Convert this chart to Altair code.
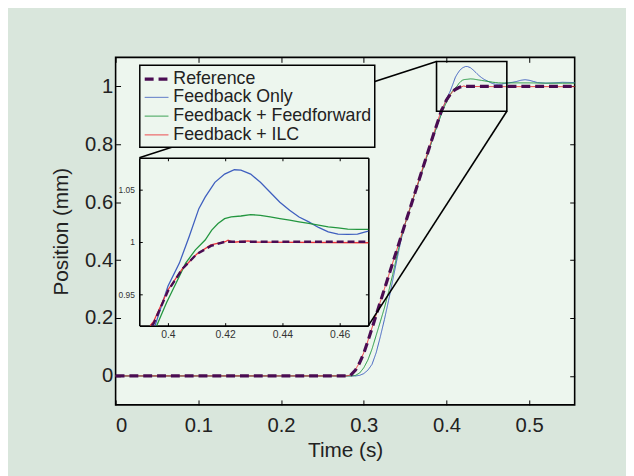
import altair as alt
import pandas as pd

# ---------------- data ----------------
SERIES = ["Reference", "Feedback Only", "Feedback + Feedforward", "Feedback + ILC"]
COLORS = ["#4a0c52", "#3f5fbf", "#23963f", "#ee3338"]

ref_t = [0.0, 0.28, 0.284, 0.29, 0.295, 0.30, 0.305, 0.31, 0.315, 0.32, 0.325, 0.33,
         0.335, 0.34, 0.345, 0.35, 0.355, 0.36, 0.365, 0.37, 0.375, 0.38, 0.385, 0.39,
         0.3944, 0.395, 0.40, 0.405, 0.41, 0.415, 0.42, 0.47, 0.555]
ref_y = [0.0, 0.0, 0.002, 0.02, 0.045, 0.078, 0.12, 0.165, 0.21, 0.255, 0.30, 0.345,
         0.39, 0.435, 0.48, 0.525, 0.57, 0.615, 0.66, 0.705, 0.75, 0.795, 0.84, 0.882,
         0.92, 0.922, 0.953, 0.974, 0.988, 0.996, 1.0, 1.0, 1.0]

fb_t = [0.0, 0.29, 0.295, 0.30, 0.305, 0.31, 0.315, 0.32, 0.325, 0.33, 0.335, 0.34,
        0.345, 0.35, 0.355, 0.36, 0.365, 0.37, 0.375, 0.38, 0.385, 0.39, 0.3955,
        0.400, 0.404, 0.4074, 0.4108, 0.413, 0.4164, 0.4198, 0.4232, 0.4255, 0.4289,
        0.4323, 0.4357, 0.4391, 0.4425, 0.4458, 0.4492, 0.4526, 0.456, 0.4594, 0.4628,
        0.4662, 0.469, 0.47, 0.475, 0.48, 0.485, 0.49, 0.495, 0.50, 0.505, 0.51, 0.52,
        0.53, 0.54, 0.555]
fb_y = [0.0, 0.0, 0.002, 0.008, 0.02, 0.04, 0.08, 0.135, 0.195, 0.26, 0.33, 0.40,
        0.468, 0.525, 0.57, 0.614, 0.658, 0.702, 0.746, 0.79, 0.833, 0.874, 0.92,
        0.9575, 0.9796, 1.0047, 1.0315, 1.0425, 1.0566, 1.0645, 1.0686, 1.0683, 1.0645,
        1.0566, 1.0472, 1.0377, 1.0299, 1.0236, 1.0189, 1.0136, 1.0094, 1.0073, 1.007,
        1.0073, 1.0094, 1.010, 1.012, 1.014, 1.017, 1.021, 1.023, 1.021, 1.017, 1.013, 1.011,
        1.012, 1.014, 1.013]

ff_t = [0.0, 0.285, 0.29, 0.295, 0.30, 0.305, 0.31, 0.315, 0.32, 0.325, 0.33, 0.335,
        0.34, 0.345, 0.35, 0.355, 0.36, 0.365, 0.37, 0.375, 0.38, 0.385, 0.39, 0.3961,
        0.3995, 0.4029, 0.4062, 0.4096, 0.413, 0.4153, 0.4175, 0.4198, 0.4221, 0.4255,
        0.4289, 0.4323, 0.4357, 0.4391, 0.4425, 0.4458, 0.4492, 0.4526, 0.456, 0.4594,
        0.4628, 0.4662, 0.47, 0.48, 0.50, 0.52, 0.54, 0.555]
ff_y = [0.0, 0.0, 0.002, 0.01, 0.028, 0.055, 0.093, 0.14, 0.187, 0.235, 0.29, 0.35,
        0.413, 0.476, 0.525, 0.57, 0.614, 0.658, 0.702, 0.746, 0.79, 0.833, 0.875, 0.92,
        0.9419, 0.9608, 0.9796, 0.9922, 1.0016, 1.011, 1.0174, 1.022, 1.0236, 1.0245,
        1.0258, 1.0252, 1.0236, 1.022, 1.0205, 1.0189, 1.0174, 1.0158, 1.0142, 1.0132,
        1.012, 1.0117, 1.0117, 1.012, 1.012, 1.011, 1.011, 1.011]

ilc_t = [0.0, 0.279, 0.284, 0.29, 0.295, 0.30, 0.305, 0.31, 0.315, 0.32, 0.325, 0.33,
         0.335, 0.34, 0.345, 0.35, 0.355, 0.36, 0.365, 0.37, 0.375, 0.38, 0.385, 0.39,
         0.3938, 0.395, 0.40, 0.405, 0.41, 0.415, 0.42, 0.421, 0.423, 0.428, 0.43, 0.47,
         0.555]
ilc_y = [0.0, 0.0, 0.003, 0.022, 0.047, 0.08, 0.121, 0.166, 0.211, 0.256, 0.301, 0.346,
         0.391, 0.436, 0.481, 0.526, 0.571, 0.616, 0.661, 0.706, 0.751, 0.796, 0.841, 0.884,
         0.92, 0.924, 0.954, 0.974, 0.988, 0.997, 1.0, 1.0015, 0.9995, 1.0008, 0.9995, 0.999,
         0.999]

# ---------------- layout ----------------
W, H = 465, 352
X_DOMAIN = [0, 0.555]
Y_DOMAIN = [-0.1, 1.1]
X_TICKS = [0, 0.1, 0.2, 0.3, 0.4, 0.5]
Y_TICKS = [0, 0.2, 0.4, 0.6, 0.8, 1.0]
INSET_X = [0.39, 0.47]
INSET_Y = [0.92, 1.08]
INSET_X_TICKS = [0.40, 0.42, 0.44, 0.46]
INSET_Y_TICKS = [0.95, 1.0, 1.05]
INSET_PX = dict(left=24, right=256, top=101.7, bottom=271.7)
BOX_X = [0.388, 0.473]
BOX_Y = [0.914, 1.086]
BG_OUT = "#d9e6dc"
BG_IN = "#edf6ee"
FONT = "Liberation Sans"


def px_to_x(px):
    return X_DOMAIN[0] + px / W * (X_DOMAIN[1] - X_DOMAIN[0])


def px_to_y(py):
    return Y_DOMAIN[1] - py / H * (Y_DOMAIN[1] - Y_DOMAIN[0])


rows = []
for name, ts, ys in [("Feedback Only", fb_t, fb_y), ("Feedback + Feedforward", ff_t, ff_y),
                     ("Feedback + ILC", ilc_t, ilc_y), ("Reference", ref_t, ref_y)]:
    for i, (t, y) in enumerate(zip(ts, ys)):
        rows.append({"series": name, "t": t, "y": y, "i": i})
df = pd.DataFrame(rows)
inset_df = df[(df.t >= INSET_X[0]) & (df.t <= INSET_X[1]) & (df.y >= INSET_Y[0]) & (df.y <= INSET_Y[1])]

box_df = pd.DataFrame([{"x": BOX_X[0], "x2": BOX_X[1], "y": BOX_Y[0], "y2": BOX_Y[1]}])
conn_df = pd.DataFrame([
    {"x": px_to_x(INSET_PX["left"]), "y": px_to_y(INSET_PX["top"]), "x2": BOX_X[0], "y2": BOX_Y[1]},
    {"x": px_to_x(INSET_PX["right"]), "y": px_to_y(INSET_PX["bottom"]), "x2": BOX_X[1], "y2": BOX_Y[0]},
])
frame_df = pd.DataFrame([{"x": INSET_X[0], "y": INSET_Y[0]}])

neg5 = alt.ExprRef(expr="-5")
neg3 = alt.ExprRef(expr="-3")

mx = alt.Scale(domain=X_DOMAIN, nice=False, zero=False)
my = alt.Scale(domain=Y_DOMAIN, nice=False, zero=False)
ix = alt.Scale(domain=INSET_X, nice=False, zero=False, range=[INSET_PX["left"], INSET_PX["right"]])
iy = alt.Scale(domain=INSET_Y, nice=False, zero=False, range=[INSET_PX["bottom"], INSET_PX["top"]])

main_axis_common = dict(domain=False, grid=False, tickSize=neg5, tickColor="black", tickWidth=1,
                        labelFontSize=20.5, labelFont=FONT, labelColor="#222222",
                        titleFontSize=21, titleFont=FONT, titleColor="#222222", titleFontWeight="normal")

x_bottom = alt.Axis(orient="bottom", values=X_TICKS, format="~g", title="Time (s)",
                    labelPadding=16, titlePadding=4, **main_axis_common)
y_left = alt.Axis(orient="left", values=Y_TICKS, format="~g", title="Position (mm)",
                  labelPadding=8, titlePadding=13, **main_axis_common)
x_top = alt.Axis(orient="top", values=X_TICKS, labels=False, title=None, **main_axis_common)
y_right = alt.Axis(orient="right", values=Y_TICKS, labels=False, title=None, **main_axis_common)

LEG = dict(title=None, orient="none", legendX=24.5, legendY=8)
color = alt.Color("series:N", scale=alt.Scale(domain=SERIES, range=COLORS), legend=alt.Legend(**LEG))
dash = alt.StrokeDash("series:N", scale=alt.Scale(domain=SERIES, range=[[9, 5], [1, 0], [1, 0], [1, 0]]),
                      legend=alt.Legend(**LEG))
width = alt.StrokeWidth("series:N", scale=alt.Scale(type="ordinal", domain=SERIES, range=[3.2, 1.0, 1.0, 1.0]),
                        legend=alt.Legend(**LEG))

main_lines = alt.Chart(df).transform_filter(alt.datum.series != "Reference").mark_line().encode(
    x=alt.X("t:Q", scale=mx, axis=x_bottom),
    y=alt.Y("y:Q", scale=my, axis=y_left),
    color=color, strokeDash=dash, strokeWidth=width, order="i:Q", detail="series:N",
)
main_ref = alt.Chart(df).transform_filter(alt.datum.series == "Reference").mark_line().encode(
    x=alt.X("t:Q", scale=mx, axis=None),
    y=alt.Y("y:Q", scale=my, axis=None),
    color=color, strokeDash=dash, strokeWidth=width, order="i:Q",
)
box = alt.Chart(box_df).mark_rect(fill=None, stroke="black", strokeWidth=1.6).encode(
    x=alt.X("x:Q", scale=mx, axis=x_top), x2="x2:Q",
    y=alt.Y("y:Q", scale=my, axis=y_right), y2="y2:Q",
)
connectors = alt.Chart(conn_df).mark_rule(color="black", strokeWidth=1.6).encode(
    x=alt.X("x:Q", scale=mx, axis=None), x2="x2:Q",
    y=alt.Y("y:Q", scale=my, axis=None), y2="y2:Q",
)
main = alt.layer(main_lines, main_ref, box, connectors).resolve_axis(x="independent", y="independent")

inset_common = dict(domain=True, domainColor="black", domainWidth=1.6, grid=False, tickSize=neg3,
                    tickColor="black", tickWidth=1, labelFont=FONT, labelColor="#333333", title=None)
ix_bottom = alt.Axis(orient="bottom", offset=-(H - INSET_PX["bottom"]), values=INSET_X_TICKS,
                     format="~g", labelFontSize=10.5, labelPadding=7, **inset_common)
iy_left = alt.Axis(orient="left", offset=-INSET_PX["left"], values=INSET_Y_TICKS,
                   format="~g", labelFontSize=8.5, labelPadding=8, **inset_common)
ix_top = alt.Axis(orient="top", offset=-INSET_PX["top"], values=INSET_X_TICKS, labels=False, **inset_common)
iy_right = alt.Axis(orient="right", offset=-(W - INSET_PX["right"]), values=INSET_Y_TICKS, labels=False,
                    **inset_common)

inset_lines = alt.Chart(inset_df).transform_filter(alt.datum.series != "Reference").mark_line(
    strokeWidth=1.3).encode(
    x=alt.X("t:Q", scale=ix, axis=ix_bottom),
    y=alt.Y("y:Q", scale=iy, axis=iy_left),
    color=alt.Color("series:N", scale=alt.Scale(domain=SERIES, range=COLORS), legend=None),
    order="i:Q", detail="series:N",
)
inset_ref = alt.Chart(inset_df).transform_filter(alt.datum.series == "Reference").mark_line(
    strokeWidth=2.4, strokeDash=[7, 4]).encode(
    x=alt.X("t:Q", scale=ix, axis=None),
    y=alt.Y("y:Q", scale=iy, axis=None),
    color=alt.Color("series:N", scale=alt.Scale(domain=SERIES, range=COLORS), legend=None),
    order="i:Q",
)
inset_frame = alt.Chart(frame_df).mark_point(opacity=0).encode(
    x=alt.X("x:Q", scale=ix, axis=ix_top),
    y=alt.Y("y:Q", scale=iy, axis=iy_right),
)
inset = alt.layer(inset_lines, inset_ref, inset_frame).resolve_axis(x="independent", y="independent")

chart = alt.layer(main, inset).resolve_scale(x="independent", y="independent").properties(
    width=W, height=H,
    autosize=alt.AutoSizeParams(type="none"),
    padding={"left": 109, "top": 47, "right": 52, "bottom": 69},
    background=BG_OUT,
).configure_view(
    fill=BG_IN, stroke="black", strokeWidth=1.6,
).configure_legend(
    symbolType="M-1.333,0H1.333", symbolSize=324, symbolOffset=3, labelFontSize=18, labelFont=FONT,
    labelColor="#222222", fillColor=BG_IN, strokeColor="black", strokeWidth=1.5, padding=3, rowPadding=0,
    labelOffset=6, cornerRadius=0, labelLimit=400,
)

chart.save("out.html", embed_options={"renderer": "svg", "actions": False})
